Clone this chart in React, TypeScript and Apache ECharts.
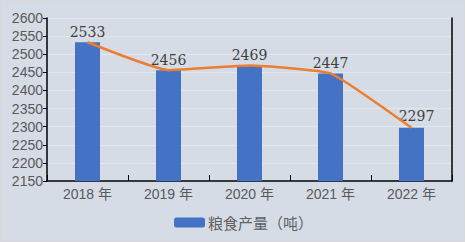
import React, { useEffect, useRef } from "react";
import * as echarts from "echarts";

const categories = ["2018 年", "2019 年", "2020 年", "2021 年", "2022 年"];
const production = [2533, 2456, 2469, 2447, 2297];
const yTicks = { min: 2150, max: 2600, interval: 50 };

export default function App() {
  const ref = useRef<HTMLDivElement>(null);
  useEffect(() => {
    document.body.style.margin = "0";
    const chart = echarts.init(ref.current!, null, { renderer: "svg" });
    chart.setOption({
      animation: false,
      backgroundColor: "#D6DCE5",
      graphic: [
        {
          type: "rect",
          shape: { x: 0.5, y: 0.5, width: 464, height: 241 },
          style: { fill: "none", stroke: "#D9D9D9", lineWidth: 1 },
          silent: true,
        },
      ],
      grid: { left: 47, right: 13, top: 18, bottom: 61, containLabel: false },
      legend: {
        data: ["粮食产量（吨）"],
        bottom: 7,
        left: 169,
        itemWidth: 31,
        itemHeight: 10,
        textStyle: {
          fontFamily: "Noto Sans CJK JP",
          fontSize: 15,
          color: "#5f5f5f",
          padding: [0, 0, 0, -2],
        },
      },
      xAxis: {
        type: "category",
        data: categories,
        boundaryGap: true,
        axisLine: { lineStyle: { color: "#000", width: 1.5 } },
        axisTick: { show: true, inside: true, length: 6, alignWithLabel: false, lineStyle: { color: "#000" } },
        axisLabel: {
          color: "#595959",
          fontFamily: "Liberation Sans, Noto Sans CJK SC",
          fontSize: 14,
          margin: 6,
        },
      },
      yAxis: [
        {
          type: "value",
          min: yTicks.min,
          max: yTicks.max,
          interval: yTicks.interval,
          axisLine: { show: true, lineStyle: { color: "#000", width: 1.5 } },
          axisTick: { show: true, length: 4, lineStyle: { color: "#000" } },
          axisLabel: {
            color: "#595959",
            fontFamily: "Liberation Sans",
            fontSize: 14,
            margin: 4,
            formatter: (v: number) => String(v),
          },
          splitLine: { show: true, lineStyle: { color: "rgba(255,255,255,0.3)", width: 1 } },
        },
        {
          type: "value",
          position: "right",
          min: yTicks.min,
          max: yTicks.max,
          interval: yTicks.interval,
          axisLine: { show: true, lineStyle: { color: "#000", width: 1.5 } },
          axisTick: { show: false },
          axisLabel: { show: false },
          splitLine: { show: false },
        },
      ],
      series: [
        {
          name: "粮食产量（吨）",
          type: "bar",
          data: production.map((v, i) =>
            i === production.length - 1 ? { value: v, label: { offset: [5, -2] } } : v
          ),
          barWidth: 25,
          itemStyle: { color: "#4472C4" },
          label: {
            show: true,
            position: "top",
            distance: 3,
            color: "#404040",
            fontFamily: "DejaVu Serif, Liberation Serif, serif",
            fontSize: 14,
            formatter: (p: any) => String(p.value),
          },
        },
        {
          name: "趋势",
          type: "line",
          data: production,
          smooth: 0.12,
          showSymbol: false,
          symbol: "none",
          lineStyle: { color: "#ED7D31", width: 2.5 },
          itemStyle: { color: "#ED7D31" },
        },
      ],
    });
    return () => chart.dispose();
  }, []);
  return <div ref={ref} style={{ width: 465, height: 242, position: "absolute", left: 0, top: 0 }} />;
}
